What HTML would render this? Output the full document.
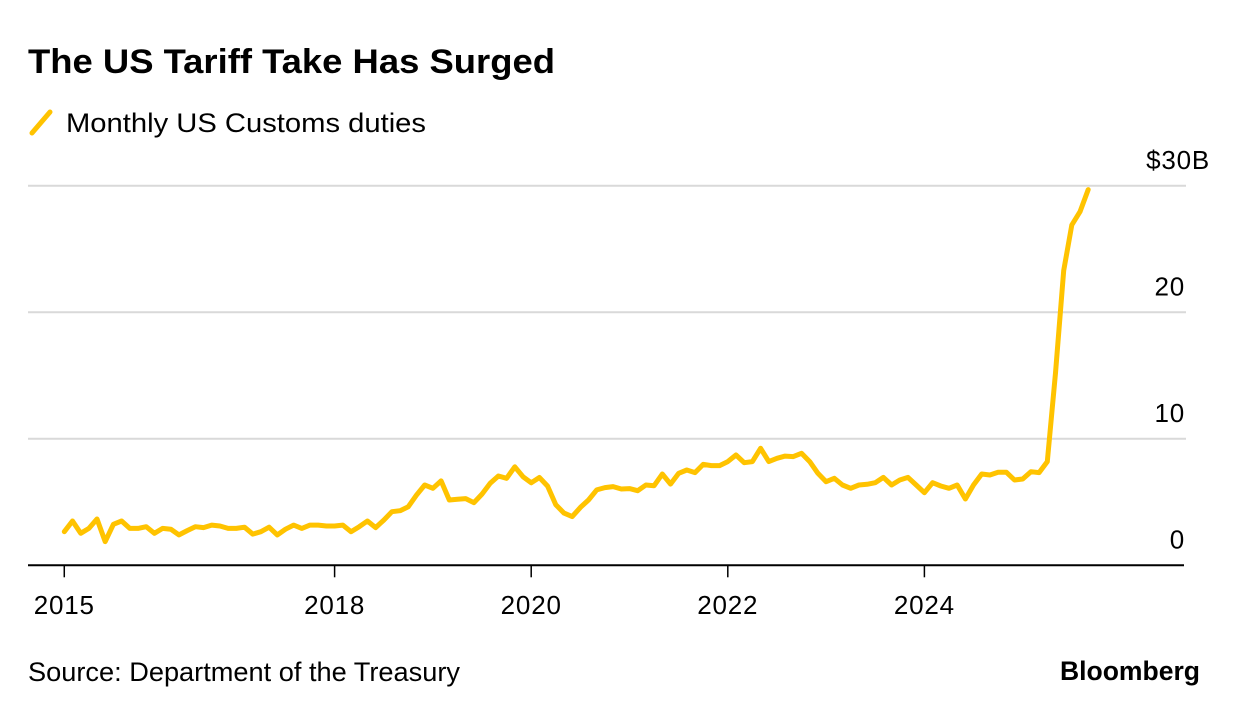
<!DOCTYPE html>
<html><head><meta charset="utf-8"><style>
html,body{margin:0;padding:0;background:#fff;}
body{width:1240px;height:714px;position:relative;overflow:hidden;font-family:"Liberation Sans",Arial,sans-serif;color:#000;}
</style></head><body>
<svg id="chart" width="1240" height="714" viewBox="0 0 1240 714" xmlns="http://www.w3.org/2000/svg" font-family="Liberation Sans, Arial, sans-serif">
<text x="28" y="73" font-size="34" font-weight="bold" textLength="527" lengthAdjust="spacingAndGlyphs">The US Tariff Take Has Surged</text>
<g>
<line x1="32" y1="133" x2="50" y2="112" stroke="#FFC300" stroke-width="5" stroke-linecap="round"/>
<text x="66" y="132" font-size="27" textLength="360" lengthAdjust="spacingAndGlyphs">Monthly US Customs duties</text>
</g>
<g id="grid"></g><g id="yticks"></g><g id="xaxis"></g><g id="series"></g>
<text x="28" y="681" font-size="27" textLength="432" lengthAdjust="spacingAndGlyphs">Source: Department of the Treasury</text>
<text x="1060" y="680" font-size="27" font-weight="bold" textLength="140" lengthAdjust="spacingAndGlyphs">Bloomberg</text>
</svg>
<script>
const startYear = 2015.25;
const values = [2.66,3.50,2.53,2.92,3.66,1.87,3.24,3.50,2.92,2.92,3.05,2.53,2.92,2.85,2.40,2.74,3.05,2.98,3.18,3.11,2.92,2.92,3.01,2.47,2.66,3.01,2.40,2.85,3.18,2.92,3.18,3.18,3.11,3.11,3.18,2.66,3.05,3.50,2.98,3.57,4.24,4.32,4.63,5.55,6.35,6.09,6.67,5.16,5.22,5.27,4.95,5.64,6.48,7.06,6.88,7.79,7.00,6.52,6.94,6.26,4.79,4.13,3.85,4.58,
5.16,5.96,6.14,6.22,6.03,6.06,5.90,6.35,6.29,7.22,6.42,7.27,7.53,7.33,7.98,7.88,7.88,8.20,8.72,8.11,8.20,9.25,8.20,8.46,8.63,8.59,8.85,8.20,7.27,6.61,6.88,6.35,6.09,6.35,6.40,6.53,6.95,6.35,6.74,6.95,6.35,5.74,6.53,6.27,6.09,6.35,5.24,6.35,7.22,7.14,7.36,7.36,6.74,6.82,7.40,7.33,8.2,
15.2,23.3,26.9,27.95,29.7];
const yTicks = [0,10,20,30];
const yTickLabels = ["0","10","20","$30B"];
const xTicks = [2015.25,2018,2020,2022,2024];
const xTickLabels = ["2015","2018","2020","2022","2024"];

const NS="http://www.w3.org/2000/svg";
const xScale = t => 334.6 + (t-2018)*98.3;
const yScale = v => 565.3 - v*12.65;
function mk(tag, parent, attrs){const e=document.createElementNS(NS,tag);for(const k in attrs)e.setAttribute(k,attrs[k]);parent.appendChild(e);return e;}
const grid=document.getElementById('grid'), yt=document.getElementById('yticks'), xa=document.getElementById('xaxis'), se=document.getElementById('series');
yTicks.forEach((v,i)=>{
  if(v>0){const l=mk('line',grid,{x1:28,x2:1186,y1:yScale(v),y2:yScale(v),stroke:'#d9d9d9','stroke-width':2});
  
  }
  const t=mk('text',yt,{x:v===30?1210:1185,y:yScale(v)-17,'font-size':26,'text-anchor':'end','letter-spacing':'0.8'});
  t.textContent=yTickLabels[i];
  
  
});
const ax=mk('line',xa,{x1:28,x2:1184,y1:yScale(0),y2:yScale(0),stroke:'#000','stroke-width':2});


xTicks.forEach((t,i)=>{
  const x=xScale(t);
  const tk=mk('line',xa,{x1:x,x2:x,y1:yScale(0),y2:yScale(0)+12,stroke:'#000','stroke-width':1.5});
  
  
  const lb=mk('text',xa,{x:x,y:614,'font-size':26,'text-anchor':'middle','letter-spacing':'0.8'});
  lb.textContent=xTickLabels[i];
  
  
});
const pts=values.map((v,i)=>xScale(startYear+i/12).toFixed(1)+','+yScale(v).toFixed(1)).join(' ');
const pl=mk('polyline',se,{points:pts,fill:'none',stroke:'#FFC300','stroke-width':5,'stroke-linejoin':'round','stroke-linecap':'round'});


</script>
</body></html>
